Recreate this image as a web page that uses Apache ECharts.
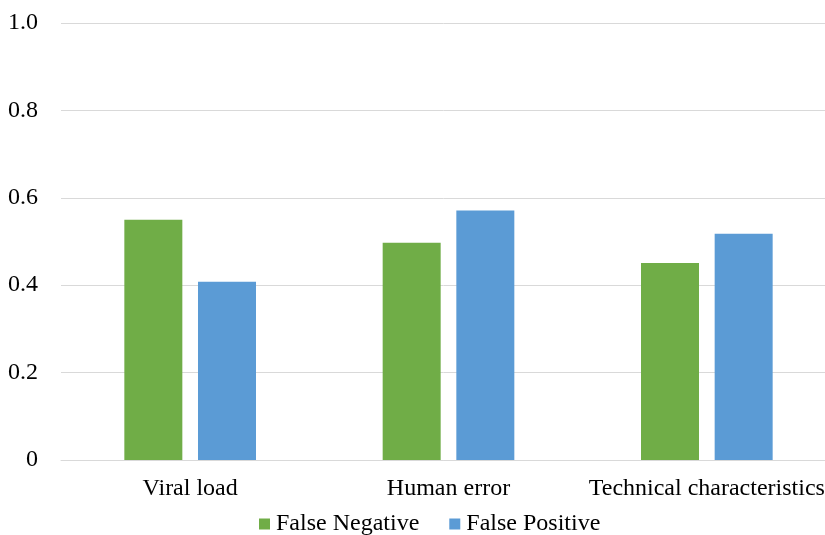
<!DOCTYPE html>
<html>
<head>
<meta charset="utf-8">
<script src="https://cdn.jsdelivr.net/npm/echarts@6/dist/echarts.min.js"></script>
<style>html,body{margin:0;padding:0;background:#fff;}#c{width:825px;height:535px;}</style>
</head>
<body>
<div id="c"></div>
<script>
const categories = ['Viral load', 'Human error', 'Technical characteristics'];
const falseNegative = [0.55, 0.497, 0.451];
const falsePositive = [0.408, 0.571, 0.518];
const yTicks = [0, 0.2, 0.4, 0.6, 0.8, 1.0];

const chart = echarts.init(document.getElementById('c'), null, {renderer: 'canvas'});
const font = 'Liberation Serif';
chart.setOption({
  animation: false,
  backgroundColor: '#fff',
  grid: {left: 61, width: 775, top: 23, height: 437, containLabel: false, outerBoundsMode: 'none'},
  legend: {
    top: 507, left: 254,
    itemWidth: 11, itemHeight: 11, itemGap: 30,
    icon: 'rect',
    textStyle: {fontFamily: font, fontSize: 24, color: '#000', padding: [0,0,0,1]},
    data: ['False Negative', 'False Positive']
  },
  xAxis: {
    type: 'category', data: categories,
    axisLine: {lineStyle: {color: '#d9d9d9', width: 1}},
    axisTick: {show: false},
    axisLabel: {fontFamily: font, fontSize: 24, color: '#000', margin: 17, interval: 0}
  },
  yAxis: {
    type: 'value', min: 0, max: 1, interval: 0.2,
    axisLine: {show: false}, axisTick: {show: false},
    splitLine: {lineStyle: {color: '#d9d9d9', width: 1}},
    axisLabel: {
      fontFamily: font, fontSize: 24, color: '#000', margin: 23,
      formatter: v => { const t = yTicks.find(x => Math.abs(x - v) < 1e-9); return t === 0 ? '0' : t.toFixed(1); }
    }
  },
  series: [
    {name: 'False Negative', type: 'bar', data: falseNegative, barWidth: 58, barGap: '27%', itemStyle: {color: '#70AD47'}},
    {name: 'False Positive', type: 'bar', data: falsePositive, barWidth: 58, itemStyle: {color: '#5B9BD5'}}
  ]
});
</script>
</body>
</html>
